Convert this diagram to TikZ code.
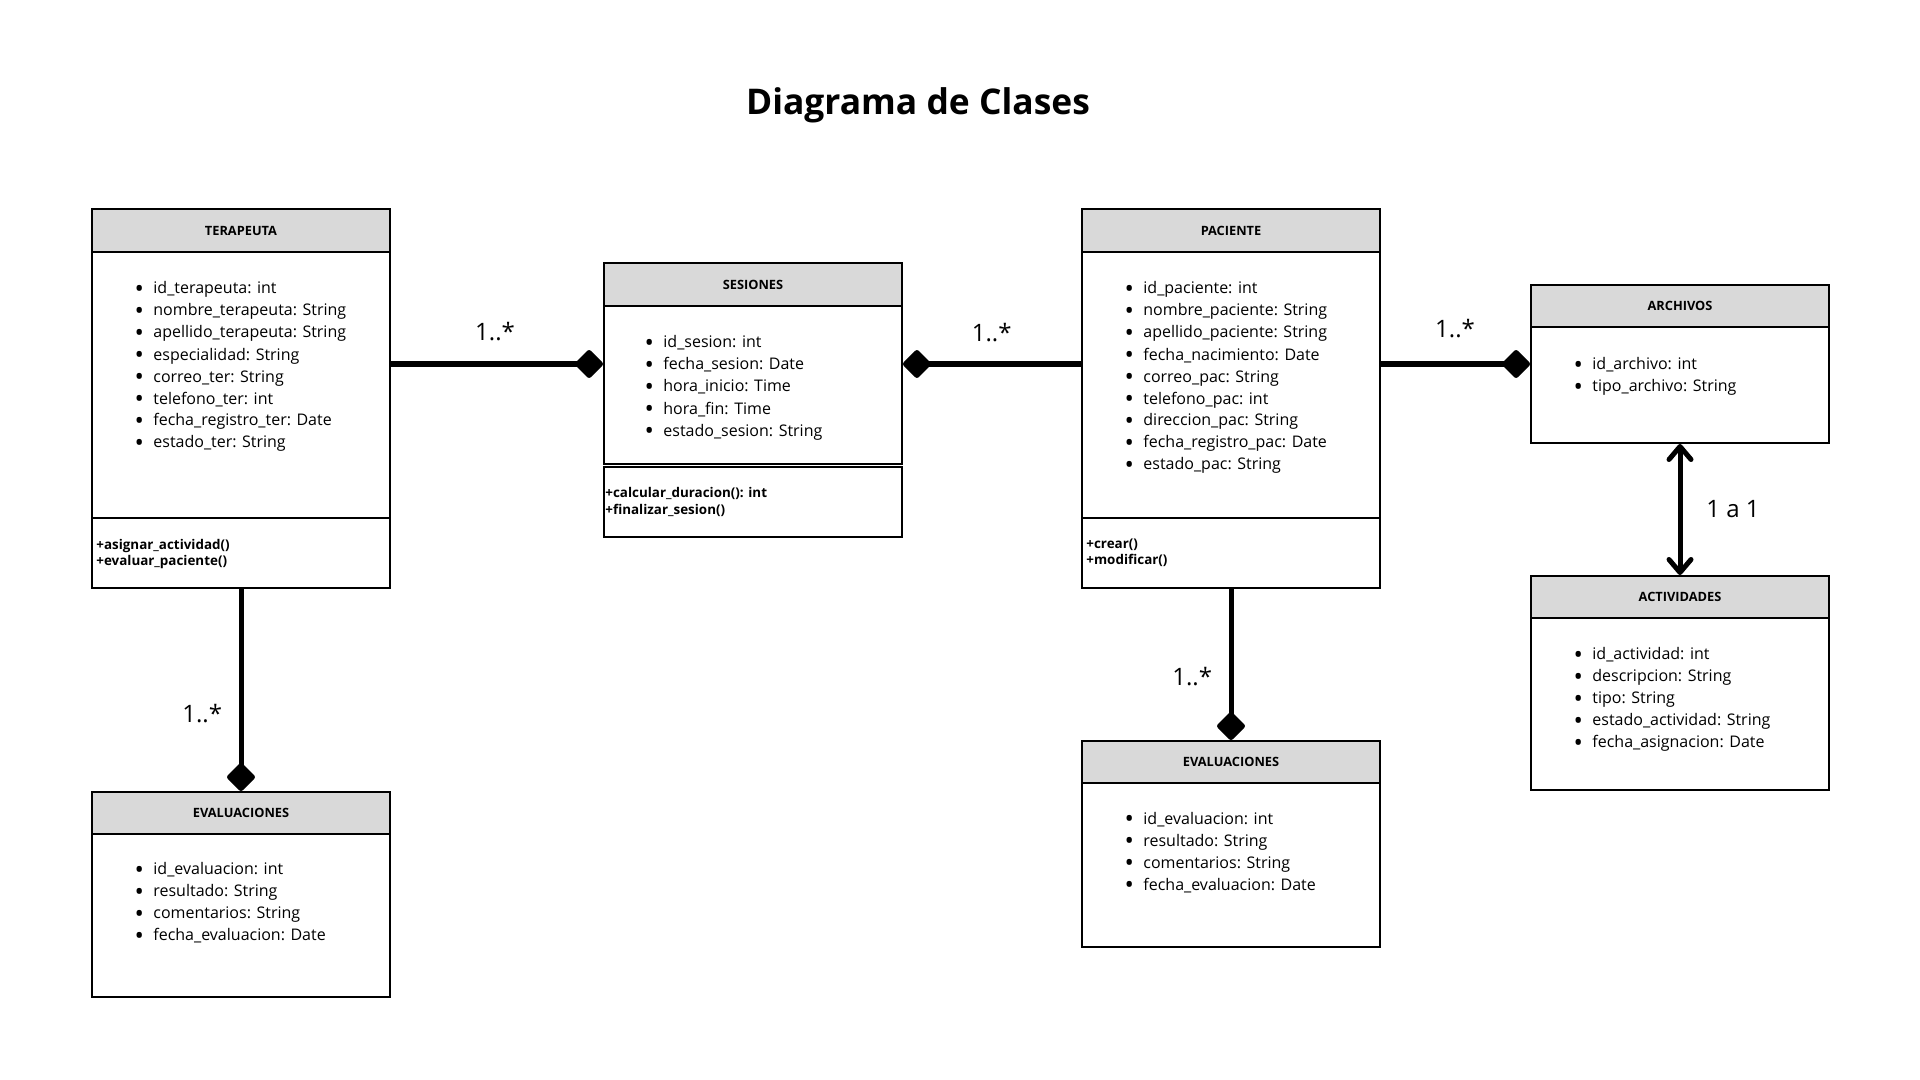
\documentclass[tikz,border=0pt]{standalone}
\usepackage{fontspec}
\setmainfont{Open Sans}
\usetikzlibrary{arrows.meta}
\definecolor{hdrgray}{HTML}{D9D9D9}
\newcommand\blt{\makebox[9pt][l]{\hspace{-0.4pt}\raisebox{-1.9pt}{\fontsize{12.5}{12.5}\selectfont•}}}
\newcommand\attrfont{\fontsize{8}{11}\selectfont}
\newcommand\methfont{\fontsize{6.7}{8.35}\selectfont\bfseries}
\newcommand\hdrfont{\fontsize{6.4}{7}\selectfont\bfseries}
\newcommand\multfont{\fontsize{12}{14}\selectfont}
\newcommand\titlefont{\fontsize{17.7}{21}\selectfont\bfseries}
\newcommand\cbox[7]{\node[#2, minimum width={((#5)-(#3))*0.5pt}, minimum height={((#6)-(#4))*0.5pt}] (#1) at ({((#3)+(#5))/2},{((#4)+(#6))/2}) {#7};}
\tikzset{
  hdr/.style={draw=black, fill=hdrgray, line width=1pt, inner sep=0pt, font=\hdrfont},
  body/.style={draw=black, fill=white, line width=1pt, inner sep=0pt},
  attrs/.style={anchor=base west, inner sep=0pt, font=\attrfont},
  meths/.style={anchor=base west, inner sep=0pt, font=\methfont},
  conn/.style={line width=2.5pt, -{Diamond[length=15pt,width=15pt,round]}},
  biarrow/.style={line width=2.5pt, {Straight Barb[length=6.5pt,width=11pt,round]}-{Straight Barb[length=6.5pt,width=11pt,round]}},
  mult/.style={font=\multfont, inner sep=0pt},
}
\begin{document}
\begin{tikzpicture}[x=0.5pt,y=-0.5pt]
\useasboundingbox[fill=white] (0,0) rectangle (1920,1080);

\node[font=\titlefont, inner sep=0pt] (title) at (918,105.5) {Diagrama de Clases};

% TERAPEUTA
\cbox{terH}{hdr}{92}{209}{390}{252}{TERAPEUTA}
\cbox{terA}{body}{92}{252}{390}{518}{}
\cbox{terM}{body}{92}{518}{390}{588}{}
\node[attrs] (terL) at (135,294) {\begin{tabular}[t]{@{}l@{}}
\blt id\_terapeuta: int\\
\blt nombre\_terapeuta: String\\
\blt apellido\_terapeuta: String\\
\blt especialidad: String\\
\blt correo\_ter: String\\
\blt telefono\_ter: int\\
\blt fecha\_registro\_ter: Date\\
\blt estado\_ter: String
\end{tabular}};
\node[meths] (terO) at (96,549) {\begin{tabular}[t]{@{}l@{}}
+asignar\_actividad()\\
+evaluar\_paciente()
\end{tabular}};

% SESIONES
\cbox{sesH}{hdr}{604}{263}{902}{306}{SESIONES}
\cbox{sesA}{body}{604}{306}{902}{464}{}
\cbox{sesM}{body}{604}{467}{902}{537}{}
\node[attrs] (sesL) at (645,348) {\begin{tabular}[t]{@{}l@{}}
\blt id\_sesion: int\\
\blt fecha\_sesion: Date\\
\blt hora\_inicio: Time\\
\blt hora\_fin: Time\\
\blt estado\_sesion: String
\end{tabular}};
\node[meths] (sesO) at (605,497.5) {\begin{tabular}[t]{@{}l@{}}
+calcular\_duracion(): int\\
+finalizar\_sesion()
\end{tabular}};

% PACIENTE
\cbox{pacH}{hdr}{1082}{209}{1380}{252}{PACIENTE}
\cbox{pacA}{body}{1082}{252}{1380}{518}{}
\cbox{pacM}{body}{1082}{518}{1380}{588}{}
\node[attrs] (pacL) at (1125,294) {\begin{tabular}[t]{@{}l@{}}
\blt id\_paciente: int\\
\blt nombre\_paciente: String\\
\blt apellido\_paciente: String\\
\blt fecha\_nacimiento: Date\\
\blt correo\_pac: String\\
\blt telefono\_pac: int\\
\blt direccion\_pac: String\\
\blt fecha\_registro\_pac: Date\\
\blt estado\_pac: String
\end{tabular}};
\node[meths] (pacO) at (1086,548) {\begin{tabular}[t]{@{}l@{}}
+crear()\\
+modificar()
\end{tabular}};

% ARCHIVOS
\cbox{arcH}{hdr}{1531}{285}{1829}{327}{ARCHIVOS}
\cbox{arcA}{body}{1531}{327}{1829}{443}{}
\node[attrs] (arcL) at (1574,369.5) {\begin{tabular}[t]{@{}l@{}}
\blt id\_archivo: int\\
\blt tipo\_archivo: String
\end{tabular}};

% ACTIVIDADES
\cbox{actH}{hdr}{1531}{576}{1829}{618}{ACTIVIDADES}
\cbox{actA}{body}{1531}{618}{1829}{790}{}
\node[attrs] (actL) at (1574,659.5) {\begin{tabular}[t]{@{}l@{}}
\blt id\_actividad: int\\
\blt descripcion: String\\
\blt tipo: String\\
\blt estado\_actividad: String\\
\blt fecha\_asignacion: Date
\end{tabular}};

% EVALUACIONES (left)
\cbox{ev1H}{hdr}{92}{792}{390}{834}{EVALUACIONES}
\cbox{ev1A}{body}{92}{834}{390}{997}{}
\node[attrs] (ev1L) at (135,874.5) {\begin{tabular}[t]{@{}l@{}}
\blt id\_evaluacion: int\\
\blt resultado: String\\
\blt comentarios: String\\
\blt fecha\_evaluacion: Date
\end{tabular}};

% EVALUACIONES (right)
\cbox{ev2H}{hdr}{1082}{741}{1380}{783}{EVALUACIONES}
\cbox{ev2A}{body}{1082}{783}{1380}{947}{}
\node[attrs] (ev2L) at (1125,824) {\begin{tabular}[t]{@{}l@{}}
\blt id\_evaluacion: int\\
\blt resultado: String\\
\blt comentarios: String\\
\blt fecha\_evaluacion: Date
\end{tabular}};

% connectors
\draw[conn] ([yshift=10.5pt]terA.east) -- ([yshift=10.5pt]sesA.west);
\draw[conn] ([yshift=10.5pt]pacA.west) -- ([yshift=10.5pt]sesA.east);
\draw[conn] ([yshift=10.5pt]pacA.east) -- ([yshift=10.5pt]arcA.west);
\draw[conn] (terM.south) -- (ev1H.north);
\draw[conn] (pacM.south) -- (ev2H.north);
\draw[biarrow] (arcA.south) -- (actH.north);

% multiplicities
\node[mult] (m1) at (495,332) {1..*};
\node[mult] (m2) at (991.7,332.5) {1..*};
\node[mult] (m3) at (1455,328.7) {1..*};
\node[mult] (m4) at (202.2,713.3) {1..*};
\node[mult] (m5) at (1192.2,676.7) {1..*};
\node[mult] (m6) at (1733,509.2) {1 a 1};
\end{tikzpicture}
\end{document}
